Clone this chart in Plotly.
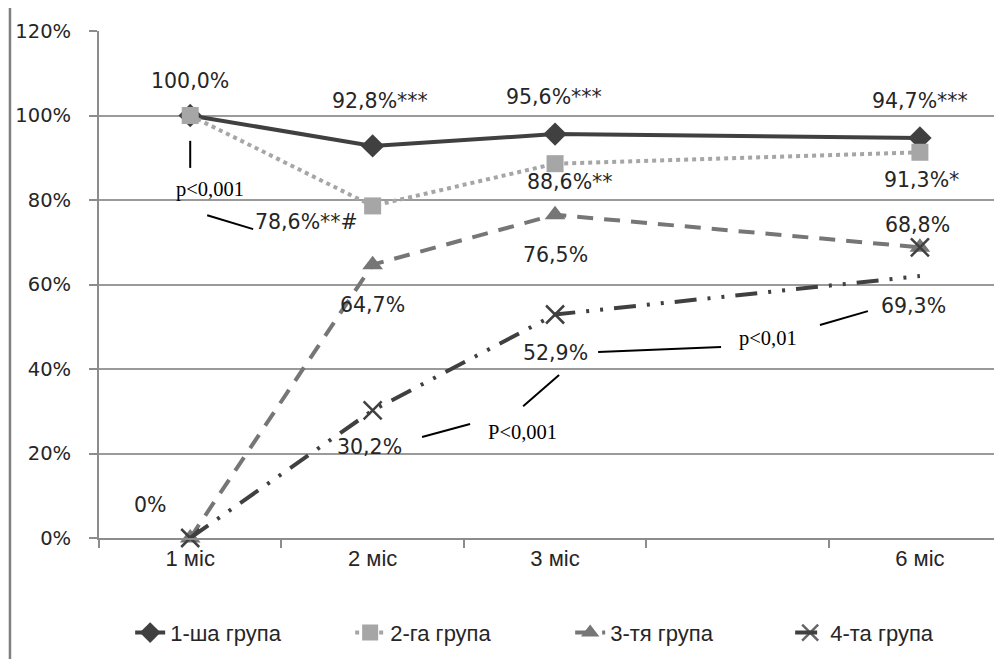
import plotly.graph_objects as go

# ---------------- data ----------------
categories = ["1 міс", "2 міс", "3 міс", " ", "6 міс"]
tick_labels = ["1 міс", "2 міс", "3 міс", "", "6 міс"]
y_ticks = [0, 20, 40, 60, 80, 100, 120]
y_tick_labels = ["0%", "20%", "40%", "60%", "80%", "100%", "120%"]

series_names = ["1-ша група", "2-га група", "3-тя група", "4-та група"]
group1 = [100.0, 92.8, 95.6, None, 94.7]
group2 = [100.0, 78.6, 88.6, None, 91.3]
group3 = [0.0, 64.7, 76.5, None, 68.8]
group4 = [0.0, 30.2, 52.9, None, 62.0]
group4_marker_6m = [68.8]          # extra X marker drawn at 6 міс

group1_labels = ["100,0%", "92,8%***", "95,6%***", "", "94,7%***"]
group2_labels = ["", "78,6%**#", "88,6%**", "", "91,3%*"]
group3_labels = ["0%", "64,7%", "76,5%", "", "68,8%"]
group4_labels = ["", "30,2%", "52,9%", "", "69,3%"]

p_labels = ["p<0,001", "P<0,001", "p<0,01"]

# ---------------- styling / placement ----------------
# label pixel offsets (dx, dy) relative to the data point
g1_off = [(0, 35), (7, 45), (-1, 37), None, (0, 37)]
g2_off = [None, (-66, -16), (15, -18), None, (2, -28)]
g3_off = [(-40, 33), (0, -40), (0, -40), None, (-2, 22)]
g4_off = [None, (-3, -37), (0, -38), None, (-6, -30)]

p_pos = [(0.11, 82.4), (1.819, 25.1), (3.167, 47.3)]
pointer_lines = [
    ((0.0, 94.0), (0.0, 87.6)),
    ((0.093, 76.4), (0.345, 73.1)),
    ((2.236, 44.0), (2.910, 45.2)),
    ((1.825, 31.2), (2.022, 38.6)),
    ((1.271, 23.9), (1.534, 27.0)),
    ((3.452, 50.4), (3.715, 53.7)),
]

dark = "#404040"
light = "#a6a6a6"
mid = "#767676"
text_col = "#262626"
axis_col = "#8c8c8c"
label_font = dict(family="DejaVu Sans", size=20.5, color=text_col)
serif_font = dict(family="Liberation Serif", size=20.5, color="#000000")

fig = go.Figure()

fig.add_trace(go.Scatter(
    x=categories, y=group1, name=series_names[0], mode="lines+markers",
    connectgaps=True, cliponaxis=False,
    line=dict(color=dark, width=4),
    marker=dict(symbol="diamond", size=18, color=dark),
))
fig.add_trace(go.Scatter(
    x=categories, y=group2, name=series_names[1], mode="lines+markers",
    connectgaps=True, cliponaxis=False,
    line=dict(color=light, width=4, dash="dot"),
    marker=dict(symbol="square", size=17, color=light),
))
fig.add_trace(go.Scatter(
    x=categories, y=group3, name=series_names[2], mode="lines+markers",
    connectgaps=True, cliponaxis=False,
    line=dict(color=mid, width=4, dash="16px,11px"),
    marker=dict(symbol="triangle-up", size=18, color=mid),
))
fig.add_trace(go.Scatter(
    x=categories, y=group4, name=series_names[3], mode="lines+markers",
    connectgaps=True, cliponaxis=False,
    line=dict(color=dark, width=4, dash="22px,11px,3px,11px,3px,11px"),
    marker=dict(symbol="x-thin", size=18, color=dark,
                line=dict(color=dark, width=2.5),
                opacity=[1, 1, 1, 1, 0]),
))
fig.add_trace(go.Scatter(
    x=[categories[4]], y=group4_marker_6m, mode="markers", showlegend=False,
    cliponaxis=False,
    marker=dict(symbol="x-thin", size=18, color=dark,
                line=dict(color=dark, width=2.5)),
))

annotations = []
for vals, labs, offs in [(group1, group1_labels, g1_off),
                         (group2, group2_labels, g2_off),
                         (group3, group3_labels, g3_off),
                         (group4, group4_labels, g4_off)]:
    for i, (v, t, o) in enumerate(zip(vals, labs, offs)):
        if not t or o is None or v is None:
            continue
        annotations.append(dict(
            x=i, y=v, xref="x", yref="y", text=t, showarrow=False,
            xshift=o[0], yshift=o[1], font=label_font,
            xanchor="center", yanchor="middle"))

for t, (px, py) in zip(p_labels, p_pos):
    annotations.append(dict(x=px, y=py, xref="x", yref="y", text=t,
                            showarrow=False, font=serif_font,
                            xanchor="center", yanchor="middle"))

shapes = []
for (x0, y0), (x1, y1) in pointer_lines:
    shapes.append(dict(type="line", xref="x", yref="y", x0=x0, y0=y0,
                       x1=x1, y1=y1, line=dict(color="#000000", width=2)))
# left border of the picture
shapes.append(dict(type="line", xref="paper", yref="paper",
                   x0=-0.0986, x1=-0.0986, y0=1.047, y1=-0.25,
                   line=dict(color="#7f7f7f", width=2.5)))

fig.update_layout(
    width=994, height=651,
    margin=dict(l=91, r=0, t=23, b=121, autoexpand=False),
    paper_bgcolor="white", plot_bgcolor="white",
    annotations=annotations, shapes=shapes,
    showlegend=True,
    legend=dict(orientation="h", x=0.0345, xanchor="left",
                y=-0.187, yanchor="middle",
                entrywidth=175, entrywidthmode="pixels",
                font=dict(family="Liberation Sans", size=22, color=text_col),
                bgcolor="rgba(0,0,0,0)"),
)
fig.update_xaxes(
    type="category", categoryorder="array", categoryarray=categories,
    tickvals=categories, ticktext=tick_labels,
    range=[-0.5, 4.45], showgrid=False, automargin=False,
    showline=True, linecolor=axis_col, linewidth=2,
    ticks="outside", tickson="boundaries", ticklen=8, tickcolor=axis_col,
    tickwidth=1.5,
    tickfont=dict(family="Liberation Sans", size=22, color=text_col),
    zeroline=False,
)
fig.update_yaxes(
    range=[0, 120], tickvals=y_ticks, ticktext=y_tick_labels,
    showgrid=True, gridcolor="#9a9a9a", gridwidth=1.5, automargin=False,
    showline=True, linecolor=axis_col, linewidth=2,
    ticks="outside", ticklen=8, tickcolor=axis_col, tickwidth=1.5,
    ticklabelstandoff=14,
    tickfont=dict(family="DejaVu Sans", size=19.5, color=text_col),
    zeroline=False,
)

fig.write_html("out.html")
